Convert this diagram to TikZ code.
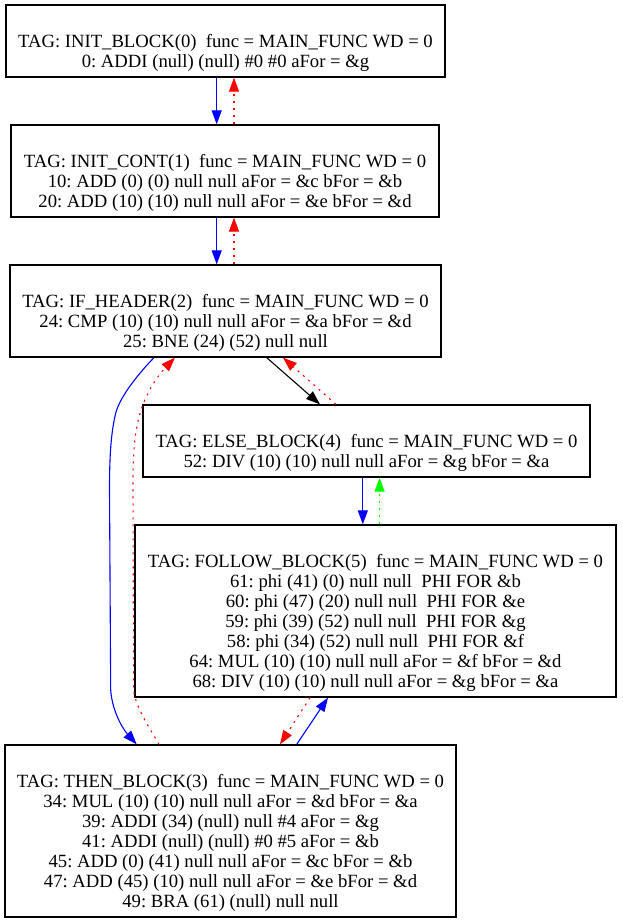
\documentclass[tikz,border=0pt]{standalone}
\usepackage{fontspec}
\setmainfont{Liberation Serif}
\usetikzlibrary{arrows.meta}
\frenchspacing
\begin{document}
\begin{tikzpicture}[x=1pt,y=-1pt,
  blk/.style={draw, line width=1.3pt, inner sep=0pt},
  txt/.style={align=center, inner sep=0pt, font=\fontsize{18.67}{20}\selectfont\frenchspacing},
  arr/.style={-{Triangle[length=14pt,width=10pt]}, line width=1.1pt},
  dotl/.style={dash pattern=on 2pt off 5pt}]
\useasboundingbox (0,0) rectangle (622,923);
% boxes
\node[blk, minimum width=439pt, minimum height=72pt] (init) at (225.5,41) {};
\node[txt] (initt) at ([yshift=-12.2pt]init.center)
  {\strut TAG: INIT\_BLOCK(0)\ \ func = MAIN\_FUNC WD = 0\\
   \strut 0: ADDI (null) (null) \#0 \#0 aFor = \&g};
\node[blk, minimum width=428pt, minimum height=92pt] (cont) at (225,171) {};
\node[txt] (contt) at ([yshift=-12.2pt]cont.center)
  {\strut TAG: INIT\_CONT(1)\ \ func = MAIN\_FUNC WD = 0\\
   \strut 10: ADD (0) (0) null null aFor = \&c bFor = \&b\\
   \strut 20: ADD (10) (10) null null aFor = \&e bFor = \&d};
\node[blk, minimum width=431pt, minimum height=92pt] (ifh) at (225.5,311) {};
\node[txt] (ifht) at ([yshift=-12.2pt]ifh.center)
  {\strut TAG: IF\_HEADER(2)\ \ func = MAIN\_FUNC WD = 0\\
   \strut 24: CMP (10) (10) null null aFor = \&a bFor = \&d\\
   \strut 25: BNE (24) (52) null null};
\node[blk, minimum width=447pt, minimum height=72pt] (else) at (366.5,441) {};
\node[txt] (elset) at ([yshift=-12.2pt]else.center)
  {\strut TAG: ELSE\_BLOCK(4)\ \ func = MAIN\_FUNC WD = 0\\
   \strut 52: DIV (10) (10) null null aFor = \&g bFor = \&a};
\node[blk, minimum width=481pt, minimum height=172pt] (follow) at (375.5,611) {};
\node[txt] (followt) at ([yshift=-12.2pt]follow.center)
  {\strut TAG: FOLLOW\_BLOCK(5)\ \ func = MAIN\_FUNC WD = 0\\
   \strut 61: phi (41) (0) null null\ \ PHI FOR \&b\\
   \strut 60: phi (47) (20) null null\ \ PHI FOR \&e\\
   \strut 59: phi (39) (52) null null\ \ PHI FOR \&g\\
   \strut 58: phi (34) (52) null null\ \ PHI FOR \&f\\
   \strut 64: MUL (10) (10) null null aFor = \&f bFor = \&d\\
   \strut 68: DIV (10) (10) null null aFor = \&g bFor = \&a};
\node[blk, minimum width=451pt, minimum height=172pt] (then) at (230.5,831) {};
\node[txt] (thent) at ([yshift=-12.2pt]then.center)
  {\strut TAG: THEN\_BLOCK(3)\ \ func = MAIN\_FUNC WD = 0\\
   \strut 34: MUL (10) (10) null null aFor = \&d bFor = \&a\\
   \strut 39: ADDI (34) (null) null \#4 aFor = \&g\\
   \strut 41: ADDI (null) (null) \#0 \#5 aFor = \&b\\
   \strut 45: ADD (0) (41) null null aFor = \&c bFor = \&b\\
   \strut 47: ADD (45) (10) null null aFor = \&e bFor = \&d\\
   \strut 49: BRA (61) (null) null null};
% straight edges
\draw[arr,blue] ([xshift=-8.8pt]init.south) -- ([xshift=-8.3pt]cont.north);
\draw[arr,red,dotl] ([xshift=9pt]cont.north) -- ([xshift=8.5pt]init.south);
\draw[arr,blue] ([xshift=-8.3pt]cont.south) -- ([xshift=-8.8pt]ifh.north);
\draw[arr,red,dotl] ([xshift=8.5pt]ifh.north) -- ([xshift=9pt]cont.south);
\draw[arr,black] ([xshift=41.2pt]ifh.south) -- ([xshift=-46.5pt]else.north);
\draw[arr,red,dotl] ([xshift=-30.5pt]else.north) -- ([xshift=57.5pt]ifh.south);
\draw[arr,blue] ([xshift=-3.7pt]else.south) -- ([xshift=-12.7pt]follow.north);
\draw[arr,green,dotl] ([xshift=4.1pt]follow.north) -- ([xshift=13.1pt]else.south);
\draw[arr,red,dotl] ([xshift=-65.5pt]follow.south) -- ([xshift=49.5pt]then.north);
\draw[arr,blue] ([xshift=66.2pt]then.north) -- ([xshift=-47.5pt]follow.south);
% curved edges
\draw[arr,blue] ([xshift=-71.5pt]ifh.south) .. controls (140,372) and (121,395) .. (116,412)
  .. controls (111,432) and (109.5,455) .. (109.5,490) -- (110.7,690)
  .. controls (112,710) and (122,728) .. ([xshift=-93.8pt]then.north);
\draw[arr,red,dotl] ([xshift=-71.5pt]then.north) .. controls (148,725) and (136,708) .. (133.5,690)
  -- (133,480) .. controls (133,445) and (136,425) .. (142,407)
  .. controls (150,385) and (163,370) .. ([xshift=-50.5pt]ifh.south);
\end{tikzpicture}
\end{document}
